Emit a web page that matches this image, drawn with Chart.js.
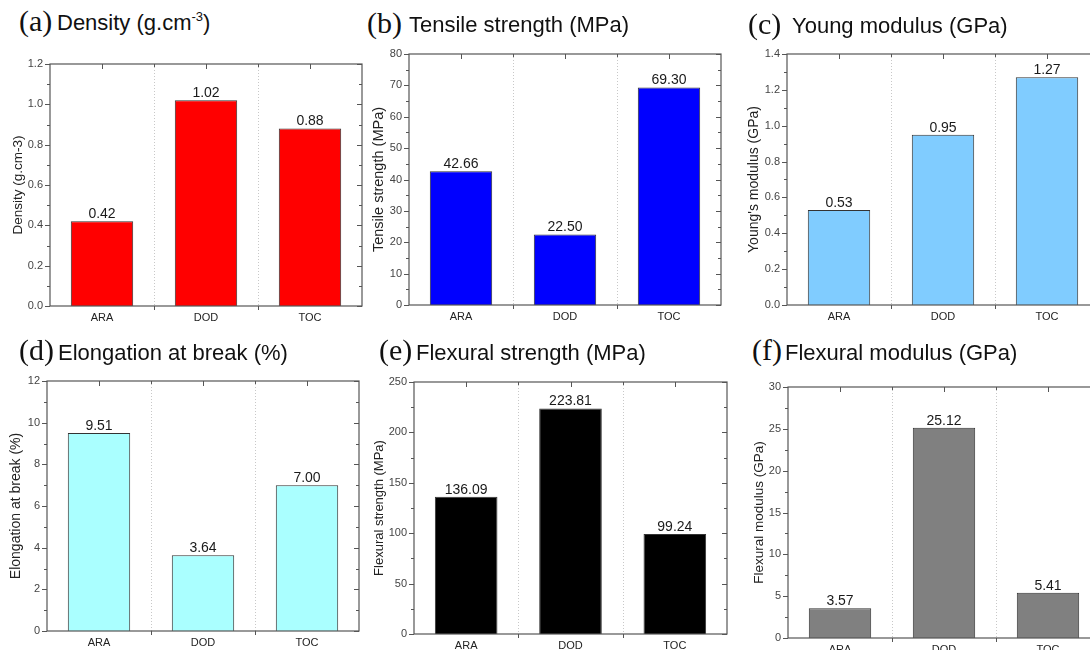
<!DOCTYPE html>
<html>
<head>
<meta charset="utf-8">
<script src="https://cdn.jsdelivr.net/npm/chart.js@4.4.1/dist/chart.umd.min.js"></script>
<style>
  html, body { margin:0; padding:0; background:#fff; }
  body { width:1090px; height:650px; overflow:hidden; position:relative; }
  canvas { position:absolute; }
  .lt { position:absolute; font-family:"Liberation Serif", serif; font-size:30px; line-height:30px; color:#111; white-space:nowrap; }
  .tx { position:absolute; font-family:"Liberation Sans", Arial, sans-serif; font-size:22px; line-height:22px; color:#111; white-space:nowrap; }
  .tx sup { font-size:13px; vertical-align:9px; line-height:0; }
</style>
</head>
<body>
<script>
// ---- data ----
const categories = ['ARA', 'DOD', 'TOC'];
const density = [0.42, 1.02, 0.88];
const tensileStrength = [42.66, 22.50, 69.30];
const youngModulus = [0.53, 0.95, 1.27];
const elongation = [9.51, 3.64, 7.00];
const flexuralStrength = [136.09, 223.81, 99.24];
const flexuralModulus = [3.57, 25.12, 5.41];

const yMax = [1.2, 80, 1.4, 12, 250, 30];
const yStep = [0.2, 10, 0.2, 2, 50, 5];
const yDecimals = [1, 0, 1, 0, 0, 0];

const panelLetters = ['(a)', '(b)', '(c)', '(d)', '(e)', '(f)'];
const panelTitles = ['Density (g.cm<sup>-3</sup>)', 'Tensile strength (MPa)', 'Young modulus (GPa)',
                     'Elongation at break (%)', 'Flexural strength (MPa)', 'Flexural modulus (GPa)'];
const yTitles = ['Density (g.cm-3)', 'Tensile strength (MPa)', "Young's modulus (GPa)",
                 'Elongation at break (%)', 'Flexural strength (MPa)', 'Flexural modulus (GPa)'];

// ---- layout / style ----
const series = [density, tensileStrength, youngModulus, elongation, flexuralStrength, flexuralModulus];
const colors = ['#ff0000', '#0000ff', '#80ccff', '#aaffff', '#000000', '#808080'];
const plots = [ // plot area: left, top, right, bottom
  [50, 64, 362, 306],
  [409, 54, 721, 305],
  [787, 54, 1099, 305],
  [47, 381, 359, 631],
  [414, 382, 727, 634],
  [788, 387, 1100, 638]
];
const yTitleDist = [32, 30, 33, 31, 35, 29];
const yTitleSize = [13.5, 14.5, 14, 14, 13, 13.5];
const letterPos = [[19, 6], [367, 8], [748, 9], [19, 335], [379, 335], [752, 335]];
const titlePos = [[57, 12], [409, 14], [792, 15], [58, 342], [416, 342], [785, 342]];

const LW = 55, TP = 14, RP = 12, BH = 28;

const decoPlugin = {
  id: 'deco',
  beforeDatasetsDraw(chart) {
    const {ctx, chartArea: a, scales: {x}} = chart;
    ctx.save();
    ctx.strokeStyle = '#c8c8c8';
    ctx.lineWidth = 1;
    ctx.setLineDash([1, 2]);
    for (let i = 0; i < categories.length - 1; i++) {
      const bx = Math.round((x.getPixelForValue(i) + x.getPixelForValue(i + 1)) / 2) + 0.5;
      ctx.beginPath(); ctx.moveTo(bx, a.top); ctx.lineTo(bx, a.bottom); ctx.stroke();
    }
    ctx.restore();
  },
  afterDatasetsDraw(chart, args, opts) {
    const {ctx, chartArea: a, scales: {x, y}} = chart;
    ctx.save();
    // value labels
    const meta = chart.getDatasetMeta(0);
    ctx.fillStyle = '#1a1a1a';
    ctx.font = '14px "Liberation Sans", Arial, sans-serif';
    ctx.textAlign = 'center';
    ctx.textBaseline = 'bottom';
    meta.data.forEach((bar, i) => {
      ctx.fillText(chart.data.datasets[0].data[i].toFixed(2), bar.x, bar.y);
    });
    // frame
    ctx.strokeStyle = '#555';
    ctx.lineWidth = 1.2;
    ctx.strokeRect(a.left, a.top, a.right - a.left, a.bottom - a.top);
    // y ticks
    const step = opts.step, max = opts.max;
    ctx.lineWidth = 1;
    for (let k = 0; k * step <= max + 1e-9; k++) {
      const v = k * step;
      const py = Math.round(y.getPixelForValue(v)) + 0.5;
      ctx.beginPath();
      ctx.moveTo(a.left - 5, py); ctx.lineTo(a.left, py);
      ctx.moveTo(a.right - 5, py); ctx.lineTo(a.right, py);
      ctx.stroke();
      if (v + step / 2 < max) {
        const pm = Math.round(y.getPixelForValue(v + step / 2)) + 0.5;
        ctx.beginPath();
        ctx.moveTo(a.left - 3, pm); ctx.lineTo(a.left, pm);
        ctx.moveTo(a.right - 3, pm); ctx.lineTo(a.right, pm);
        ctx.stroke();
      }
    }
    // x ticks
    for (let i = 0; i < categories.length; i++) {
      const cx = Math.round(x.getPixelForValue(i)) + 0.5;
      ctx.beginPath(); ctx.moveTo(cx, a.top); ctx.lineTo(cx, a.top + 5); ctx.stroke();
      if (i < categories.length - 1) {
        const bx = Math.round((x.getPixelForValue(i) + x.getPixelForValue(i + 1)) / 2) + 0.5;
        ctx.beginPath();
        ctx.moveTo(bx, a.top); ctx.lineTo(bx, a.top + 3);
        ctx.moveTo(bx, a.bottom); ctx.lineTo(bx, a.bottom + 4);
        ctx.stroke();
      }
    }
    ctx.restore();
  }
};

for (let p = 0; p < 6; p++) {
  const [l, t, r, b] = plots[p];
  const cv = document.createElement('canvas');
  const w = (r - l) + LW + RP, h = (b - t) + TP + BH;
  cv.width = w; cv.height = h;
  cv.style.left = (l - LW) + 'px';
  cv.style.top = (t - TP) + 'px';
  cv.style.width = w + 'px'; cv.style.height = h + 'px';
  document.body.appendChild(cv);

  const lt = document.createElement('div');
  lt.className = 'lt'; lt.textContent = panelLetters[p];
  lt.style.left = letterPos[p][0] + 'px'; lt.style.top = letterPos[p][1] + 'px';
  document.body.appendChild(lt);
  const tx = document.createElement('div');
  tx.className = 'tx'; tx.innerHTML = panelTitles[p];
  tx.style.left = titlePos[p][0] + 'px'; tx.style.top = titlePos[p][1] + 'px';
  document.body.appendChild(tx);

  const lh = yTitleSize[p] * 1.2;
  new Chart(cv, {
    type: 'bar',
    data: {
      labels: categories,
      datasets: [{
        data: series[p],
        backgroundColor: colors[p],
        borderColor: '#333',
        borderWidth: 1,
        barPercentage: 0.6,
        categoryPercentage: 1.0
      }]
    },
    plugins: [decoPlugin],
    options: {
      responsive: false,
      animation: false,
      devicePixelRatio: 1,
      layout: { padding: { left: 0, top: TP, right: RP, bottom: 0 } },
      plugins: {
        legend: { display: false },
        tooltip: { enabled: false },
        deco: { step: yStep[p], max: yMax[p] }
      },
      scales: {
        x: {
          grid: { display: false, drawTicks: false },
          border: { display: false },
          ticks: { color: '#222', font: { family: '"Liberation Sans", Arial, sans-serif', size: 11 }, padding: 5 },
          afterFit: s => { s.height = BH; }
        },
        y: {
          min: 0, max: yMax[p],
          grid: { display: false, drawTicks: false },
          border: { display: false },
          ticks: {
            stepSize: yStep[p],
            color: '#444',
            font: { family: '"Liberation Sans", Arial, sans-serif', size: 11 },
            padding: 7,
            callback: v => Number(v).toFixed(yDecimals[p])
          },
          title: {
            display: true,
            text: yTitles[p],
            color: '#222',
            font: { family: '"Liberation Sans", Arial, sans-serif', size: yTitleSize[p] },
            padding: { top: LW - yTitleDist[p] - lh / 2, bottom: 0 }
          },
          afterFit: s => { s.width = LW; }
        }
      }
    }
  });
}
</script>
</body>
</html>
